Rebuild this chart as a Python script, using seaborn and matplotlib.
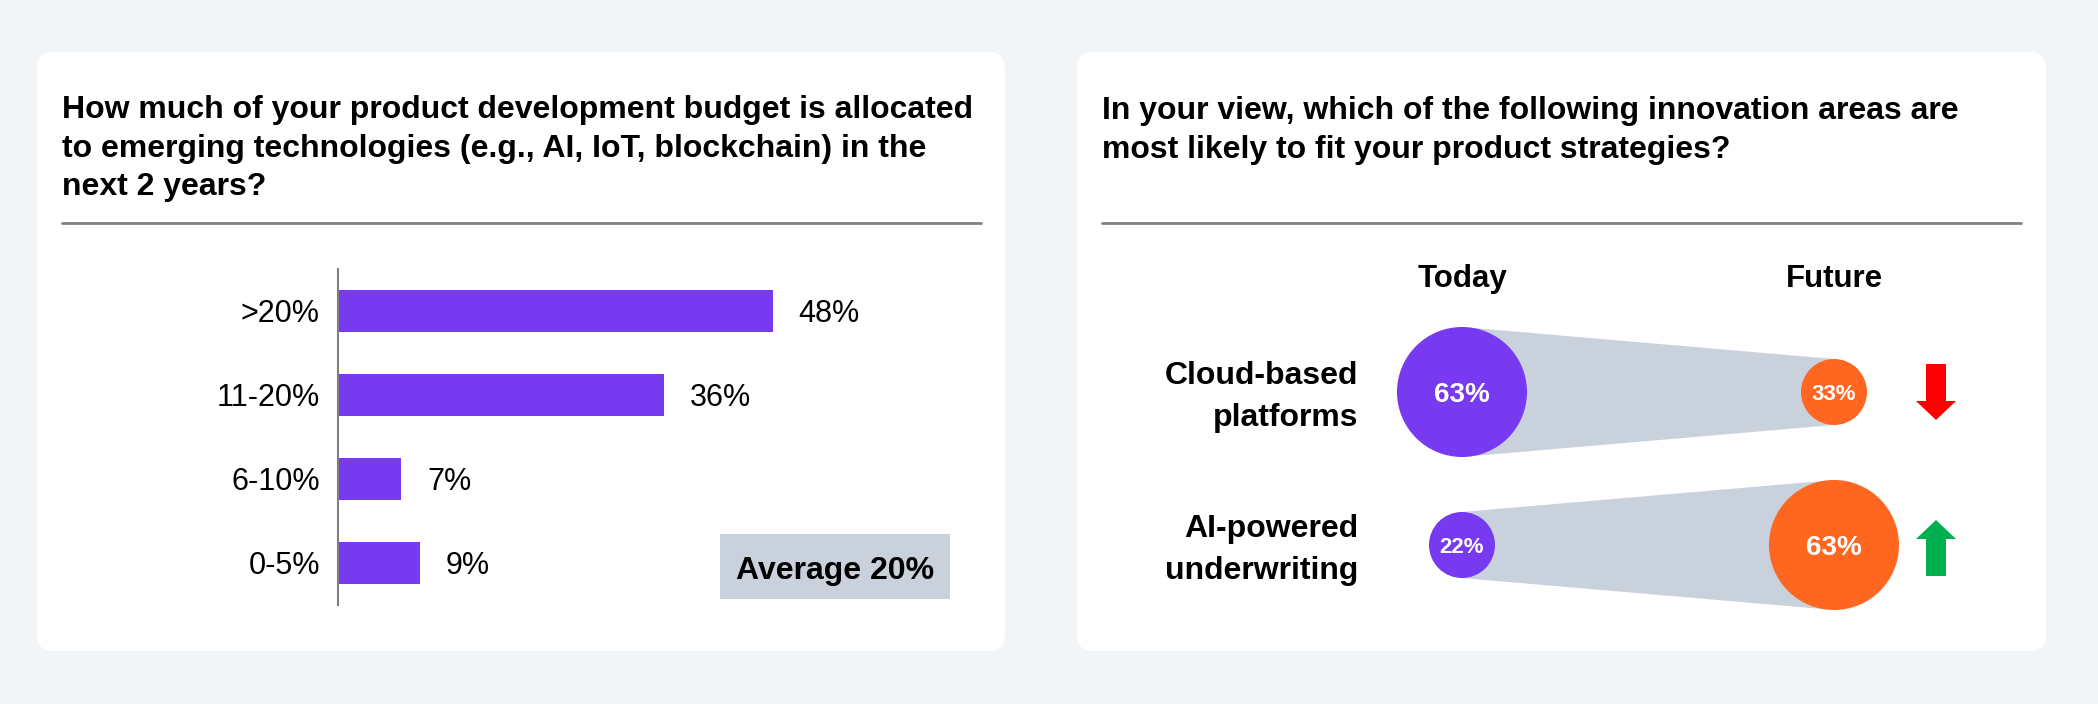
import numpy as np
import pandas as pd
import seaborn as sns
import matplotlib.pyplot as plt
from matplotlib.patches import FancyBboxPatch, Rectangle, Circle, Polygon, FancyArrow

# left panel: share of budget going to emerging tech
budget_bins = ['>20%', '11-20%', '6-10%', '0-5%']
budget_share = [48, 36, 7, 9]
budget_avg = 20

# right panel: innovation areas, today vs future
areas = ['Cloud-based\nplatforms', 'AI-powered\nunderwriting']
today = [63, 22]
future = [33, 63]
periods = ['Today', 'Future']

title_left = ('How much of your product development budget is allocated\n'
              'to emerging technologies (e.g., AI, IoT, blockchain) in the\n'
              'next 2 years?')
title_right = ('In your view, which of the following innovation areas are\n'
               'most likely to fit your product strategies?')

purple = '#773AF0'
orange = '#FF661F'
slate = '#C9D1DC'
bg = '#F1F5F8'

sns.set_style('white')
plt.rcParams['font.family'] = ['Liberation Sans', 'DejaVu Sans']
plt.rcParams['text.color'] = 'black'
plt.rcParams['ytick.color'] = 'black'
plt.rcParams['ytick.labelcolor'] = 'black'

W, H = 2098, 704
fig = plt.figure(figsize=(W / 100, H / 100), dpi=100, facecolor=bg)

# full-figure canvas in pixel units (y down) for cards, titles, bubbles
cv = fig.add_axes([0, 0, 1, 1])
cv.set_xlim(0, W)
cv.set_ylim(H, 0)
cv.axis('off')

for x0, x1 in [(37, 1005), (1077, 2046)]:
    cv.add_patch(FancyBboxPatch((x0, 52), x1 - x0, 599, boxstyle='round,pad=0,rounding_size=16',
                                fc='white', ec='none', zorder=0))

cv.text(62, 95, title_left, fontsize=23, fontweight='bold', va='top', linespacing=1.37)
cv.text(1102, 96, title_right, fontsize=23, fontweight='bold', va='top', linespacing=1.37)
cv.plot([62, 981], [223, 223], color='#808080', lw=2)
cv.plot([1102, 2021], [223, 223], color='#808080', lw=2)

# average box
cv.add_patch(Rectangle((720, 534), 230, 65, fc=slate, ec='none'))
cv.text(835, 579, f'Average {budget_avg}%', fontsize=23, fontweight='bold', ha='center', va='baseline')

# bubbles
col_x = [1462, 1834]
row_y = [392, 545]
for x, p in zip(col_x, periods):
    cv.text(x, 287, p, fontsize=22.5, fontweight='bold', ha='center', va='baseline')


def radius(v):
    return np.interp(v, [33, 63], [33, 65])


def label_size(v):
    return np.interp(v, [33, 63], [16, 20])


for y, area, t, f in zip(row_y, areas, today, future):
    rt, rf = radius(t), radius(f)
    cv.add_patch(Polygon([(col_x[0], y - rt), (col_x[1], y - rf), (col_x[1], y + rf), (col_x[0], y + rt)],
                         closed=True, fc=slate, ec='none', zorder=1))
    cv.add_patch(Circle((col_x[0], y), rt, fc=purple, ec='none', zorder=2))
    cv.add_patch(Circle((col_x[1], y), rf, fc=orange, ec='none', zorder=2))
    cv.text(col_x[0], y, f'{t}%', color='white', fontweight='bold', fontsize=label_size(t),
            ha='center', va='center_baseline', zorder=3)
    cv.text(col_x[1], y, f'{f}%', color='white', fontweight='bold', fontsize=label_size(f),
            ha='center', va='center_baseline', zorder=3)
    cv.text(1358, y + 5, area, fontsize=23, fontweight='bold', ha='right', va='center',
            multialignment='right', linespacing=1.48)
    if f < t:
        cv.add_patch(FancyArrow(1936, y - 28, 0, 56, width=20, head_width=40, head_length=19,
                                length_includes_head=True, fc='#FF0000', ec='none'))
    else:
        cv.add_patch(FancyArrow(1936, y + 31, 0, -56, width=20, head_width=40, head_length=19,
                                length_includes_head=True, fc='#00B050', ec='none'))

# bar chart
ax = fig.add_axes([338 / W, 1 - 605 / H, 643 / W, 336 / H])
ax.patch.set_alpha(0)
df = pd.DataFrame({'bin': budget_bins, 'share': budget_share})
sns.barplot(df, x='share', y='bin', color=purple, width=0.49, linewidth=0, saturation=1, ax=ax)
labels = ax.bar_label(ax.containers[0], labels=[f'{v}%' for v in budget_share], padding=18.7, fontsize=22)
for t in labels:
    t.set_va('center_baseline')
ax.set_xlim(0, 71)
ax.set_ylim(3.5, -0.5)
ax.set_xlabel('')
ax.set_ylabel('')
ax.set_xticks([])
ax.tick_params(axis='y', length=0, pad=13, labelsize=22, labelcolor='black')
sns.despine(ax=ax, bottom=True)
ax.spines['left'].set_color('#808080')
ax.spines['left'].set_linewidth(1.5)

fig.savefig('out.png', dpi=100, facecolor=bg)
